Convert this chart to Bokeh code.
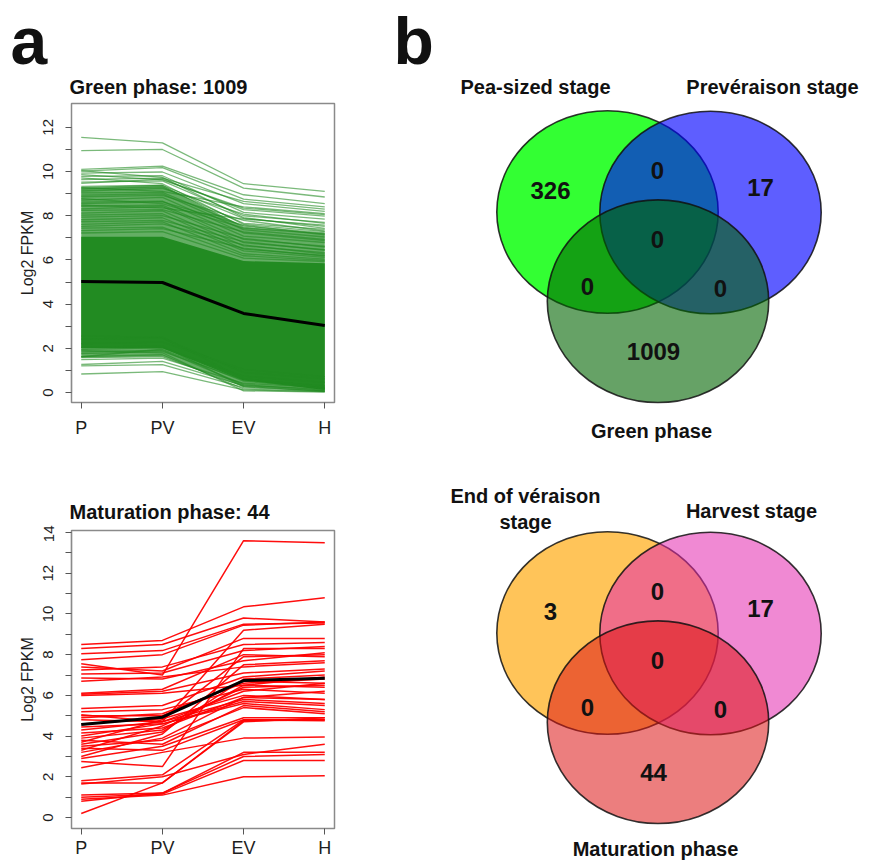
from bokeh.plotting import figure
from bokeh.layouts import row, column
from bokeh.models import Range1d, FixedTicker
from bokeh.core.properties import value
from bokeh.embed import file_html
from bokeh.resources import INLINE

FONT = "Liberation Sans"

# ---------------------------------------------------------------- data
stages = ["P", "PV", "EV", "H"]
stage_x = [1, 2, 3, 4]

green_phase_total = 1009
maturation_phase_total = 44

# Green phase profiles: mean, dense core envelope, outer fringe envelope
green_mean = [5.02, 4.98, 3.58, 3.03]
green_core_low = [2.00, 2.00, 0.55, 0.12]
green_core_high = [7.05, 7.05, 5.95, 5.85]
green_fringe_low = [1.55, 1.60, 0.25, 0.05]
green_fringe_high = [9.30, 9.40, 7.50, 7.20]

# Green phase: individually distinguishable profiles (Log2 FPKM per stage)
green_at_P = [11.55, 10.95, 10.10, 10.02, 9.93, 9.86, 9.78, 9.64, 9.52, 9.47, 9.33, 9.21,
              9.12, 9.04, 8.93, 8.86, 8.71, 8.62, 8.55, 8.43, 8.31, 8.24, 8.12, 8.03,
              7.94, 7.82, 7.73, 7.61, 7.52, 7.44, 7.33, 7.22, 10.04, 9.71, 8.78, 9.27, 8.48,
              0.84, 1.21, 1.27, 1.49, 1.63, 1.76, 1.84, 1.95, 2.04, 2.42, 2.55, 1.62, 2.21, 1.91]
green_at_PV = [11.30, 11.00, 10.25, 10.18, 9.98, 9.62, 9.81, 9.70, 9.58, 9.66, 9.38, 9.31,
               9.24, 9.06, 8.99, 8.92, 8.83, 8.66, 8.63, 8.48, 8.42, 8.28, 8.22, 8.09,
               8.01, 7.91, 7.79, 7.72, 7.63, 7.49, 7.42, 7.28, 9.74, 9.45, 8.55, 9.10, 8.36,
               0.95, 1.26, 1.41, 1.56, 1.71, 1.86, 1.92, 2.02, 2.11, 2.46, 2.51, 1.96, 2.28, 1.80]
green_at_EV = [9.45, 9.25, 8.95, 8.75, 8.55, 8.35, 8.15, 8.65, 8.00, 8.28, 7.88, 7.66,
               8.07, 7.53, 7.37, 7.79, 7.22, 7.08, 7.57, 6.93, 6.78, 7.27, 6.64, 6.49,
               6.98, 6.41, 6.83, 6.28, 6.68, 6.19, 6.53, 6.08, 7.92, 7.61, 7.44, 8.40, 7.85,
               0.12, 0.22, 0.31, 0.42, 0.16, 0.56, 0.36, 0.74, 0.27, 0.91, 0.63, 0.52, 1.05, 0.08]
green_at_H = [9.10, 8.85, 8.55, 8.40, 8.20, 8.05, 7.85, 8.30, 7.70, 7.98, 7.52, 7.38,
              7.66, 7.22, 7.04, 7.31, 6.88, 6.79, 7.14, 6.62, 6.47, 6.93, 6.33, 6.21,
              6.58, 6.12, 6.44, 6.04, 6.27, 5.98, 6.17, 5.93, 7.43, 7.28, 7.19, 8.10, 7.58,
              0.04, 0.09, 0.16, 0.21, 0.05, 0.31, 0.11, 0.46, 0.06, 0.62, 0.26, 0.19, 0.72, 0.02]

# Maturation phase: mean profile and the 44 gene profiles
red_mean = [4.57, 4.93, 6.73, 6.84]
red_at_P = [8.50, 8.30, 8.05, 7.75, 7.55, 7.25, 7.05, 6.85, 6.70, 7.40, 6.05, 6.00,
            5.35, 5.20, 5.05, 4.90, 4.80, 4.60, 4.45, 4.30, 4.15, 4.00, 3.90, 3.80,
            3.70, 3.60, 3.50, 3.40, 3.30, 3.20, 3.00, 2.90, 2.75, 2.45, 1.80, 1.70,
            1.65, 1.10, 1.00, 0.90, 0.80, 0.20, 6.10, 5.00]
red_at_PV = [8.70, 8.50, 8.20, 8.00, 7.00, 7.40, 7.10, 6.80, 6.90, 7.20, 6.20, 6.10,
             5.50, 5.30, 4.70, 5.10, 4.70, 4.85, 4.60, 4.70, 4.40, 4.60, 4.30, 3.60,
             4.80, 4.20, 3.80, 3.30, 4.50, 3.90, 4.10, 3.50, 2.50, 3.20, 2.10, 1.70,
             2.00, 1.20, 1.15, 1.10, 1.20, 1.70, 6.30, 5.00]
red_at_EV = [10.35, 9.80, 9.50, 9.45, 13.60, 8.50, 8.20, 7.70, 7.40, 8.80, 7.10, 6.50,
             6.90, 6.30, 5.80, 6.60, 9.20, 6.00, 5.60, 6.20, 5.90, 5.70, 6.50, 5.50,
             7.90, 6.80, 5.40, 4.80, 6.40, 5.90, 7.50, 4.90, 8.30, 3.90, 4.80, 4.70,
             3.10, 3.00, 2.80, 2.00, 3.20, 4.75, 8.00, 6.70]
red_at_H = [10.80, 9.60, 9.55, 9.60, 13.50, 8.60, 8.40, 8.10, 7.60, 8.80, 7.30, 6.40,
            7.20, 6.10, 5.60, 6.80, 9.50, 5.80, 5.30, 6.60, 6.20, 5.50, 6.90, 5.20,
            8.00, 7.00, 5.10, 4.80, 6.50, 5.80, 7.70, 4.90, 8.30, 3.95, 4.75, 4.90,
            3.60, 3.10, 2.80, 2.05, 3.20, 4.80, 7.90, 6.60]

# Venn diagrams: set names and region counts
# region order: only A, only B, only C, A&B, A&C, B&C, A&B&C
venn_green_sets = ["Pea-sized stage", "Prevéraison stage", "Green phase"]
venn_green_counts = [326, 17, green_phase_total, 0, 0, 0, 0]
venn_mat_sets = ["End of véraison\nstage", "Harvest stage", "Maturation phase"]
venn_mat_counts = [3, 17, maturation_phase_total, 0, 0, 0, 0]


# ---------------------------------------------------------------- helpers
def canvas(width, height, x0=0):
    """Axis-free figure whose data units are page pixels (y grows downward)."""
    p = figure(width=width, height=height, x_range=Range1d(x0, x0 + width),
               y_range=Range1d(height, 0), output_backend="svg", toolbar_location=None,
               x_axis_location=None, y_axis_location=None,
               min_border=0, min_border_left=0, min_border_right=0,
               min_border_top=0, min_border_bottom=0)
    p.grid.visible = False
    p.outline_line_color = None
    p.background_fill_color = "white"
    p.border_fill_color = "white"
    return p


def header(height, title, title_y, letter=None):
    h = canvas(350, height)
    if letter is not None:
        h.text(x=[10], y=[40], text=[letter], text_font=value(FONT), text_font_style="bold",
               text_font_size="66px", text_color="#111111",
               text_align="left", text_baseline="middle")
    h.text(x=[69], y=[title_y], text=[title], text_font=value(FONT), text_font_style="bold",
           text_font_size="20px", text_color="#111111",
           text_align="left", text_baseline="middle")
    return h


def profiles(*cols):
    return [list(v) for v in zip(*cols)]


def line_panel(height, border_top, border_bottom, x_standoff, y_range, y_top_tick):
    p = figure(width=350, height=height, x_range=Range1d(0.88, 4.12), y_range=Range1d(*y_range),
               output_backend="svg", toolbar_location=None,
               min_border_left=71, min_border_right=16,
               min_border_top=border_top, min_border_bottom=border_bottom)
    p.grid.visible = False
    p.outline_line_color = "#8a8a8a"
    p.outline_line_width = 1.5
    p.background_fill_color = "white"
    p.border_fill_color = "white"

    p.xaxis.ticker = FixedTicker(ticks=stage_x)
    p.xaxis.major_label_overrides = {x: s for x, s in zip(stage_x, stages)}
    p.xaxis.bounds = (stage_x[0], stage_x[-1])
    p.yaxis.ticker = FixedTicker(ticks=list(range(0, y_top_tick + 1, 2)),
                                 minor_ticks=list(range(1, y_top_tick, 2)))
    p.yaxis.bounds = (0, y_top_tick)
    for ax in p.axis:
        ax.axis_line_color = "#8a8a8a"
        ax.axis_line_width = 1.2
        ax.major_tick_line_color = "#555555"
        ax.minor_tick_line_color = "#555555"
        ax.major_tick_out = 6
        ax.major_tick_in = 0
        ax.minor_tick_out = 6
        ax.minor_tick_in = 0
        ax.major_label_text_font = FONT
        ax.major_label_text_color = "#1e1e1e"
    p.xaxis.minor_tick_line_color = None
    p.xaxis.major_label_text_font_size = "18px"
    p.xaxis.major_label_standoff = x_standoff
    p.yaxis.major_label_text_font_size = "15px"
    p.yaxis.major_label_orientation = "vertical"
    p.yaxis.major_label_standoff = 12
    p.yaxis.axis_label = "Log2 FPKM"
    p.yaxis.axis_label_text_font = FONT
    p.yaxis.axis_label_text_font_size = "16px"
    p.yaxis.axis_label_text_font_style = "normal"
    p.yaxis.axis_label_text_color = "#1e1e1e"
    p.yaxis.axis_label_standoff = 5
    return p


# ---------------------------------------------------------------- panel a
ha1 = header(100, f"Green phase: {green_phase_total}", 86.5, letter="a")

pa1 = line_panel(341, 3, 39, 9, (-0.45, 13.08), 12)
pa1.varea(x=stage_x, y1=green_fringe_low, y2=green_fringe_high, fill_color="#228B22", fill_alpha=0.7)
pa1.varea(x=stage_x, y1=green_core_low, y2=green_core_high, fill_color="#228B22", fill_alpha=1.0)
pa1.multi_line(xs=[stage_x] * len(green_at_P),
               ys=profiles(green_at_P, green_at_PV, green_at_EV, green_at_H),
               line_color="#228B22", line_alpha=0.6, line_width=1.3)
pa1.line(stage_x, green_mean, line_color="black", line_width=3)

ha2 = header(84, f"Maturation phase: {maturation_phase_total}", 70.7)

pa2 = line_panel(336, 5, 33, 3, (-0.54, 14.1), 14)
pa2.multi_line(xs=[stage_x] * len(red_at_P),
               ys=profiles(red_at_P, red_at_PV, red_at_EV, red_at_H),
               line_color="#FF0000", line_alpha=0.95, line_width=1.5)
pa2.line(stage_x, red_mean, line_color="black", line_width=3)

# ---------------------------------------------------------------- panel b
pb = canvas(520, 861, x0=350)

# circle layout (page pixels) for the upper diagram; the lower one is shifted down
VENN_CENTERS = [(607, 211.5), (710, 212), (657.5, 300.7)]
VENN_RX, VENN_RY = 110.7, 101.3
REGION_POS = [(550, 190), (760, 187), (653, 351), (657, 170), (587, 286), (720, 288), (657, 239)]
VENN_SHIFT = 421

venn_styles = [
    dict(fills=["#00FF00", "#0000FF", "#006400"], alphas=[0.8, 0.63, 0.6],
         label_pos=[(535, 86), (772, 86), (651, 430)], shift=0),
    dict(fills=["#FFA500", "#E428AF", "#DC1414"], alphas=[0.65, 0.55, 0.55],
         label_pos=[(525, 495), (751, 510), (655, 848)], shift=VENN_SHIFT),
]


def draw_venn(p, names, counts, style):
    dy = style["shift"]
    for (cx, cy), fc, fa in zip(VENN_CENTERS, style["fills"], style["alphas"]):
        p.ellipse(x=cx, y=cy + dy, width=2 * VENN_RX, height=2 * VENN_RY,
                  fill_color=fc, fill_alpha=fa, line_color="#111111",
                  line_width=1.6, line_alpha=0.85)
    p.text(x=[x for x, _ in REGION_POS], y=[y + dy for _, y in REGION_POS],
           text=[str(c) for c in counts], text_font=value(FONT), text_font_style="bold",
           text_font_size="24px", text_color="#111111",
           text_align="center", text_baseline="middle")
    xs, ys, texts = [], [], []
    for name, (lx, ly) in zip(names, style["label_pos"]):
        for i, part in enumerate(name.split("\n")):
            xs.append(lx)
            ys.append(ly + 26 * i)
            texts.append(part)
    p.text(x=xs, y=ys, text=texts, text_font=value(FONT), text_font_style="bold",
           text_font_size="20px", text_color="#111111",
           text_align="center", text_baseline="middle")


draw_venn(pb, venn_green_sets, venn_green_counts, venn_styles[0])
draw_venn(pb, venn_mat_sets, venn_mat_counts, venn_styles[1])
pb.text(x=[393], y=[40], text=["b"], text_font=value(FONT), text_font_style="bold",
        text_font_size="66px", text_color="#111111",
        text_align="left", text_baseline="middle")

# each plot sits in its own box so the headers keep their full-width frames
left = column(row(ha1, spacing=0), row(pa1, spacing=0),
              row(ha2, spacing=0), row(pa2, spacing=0), spacing=0)
layout = row(left, pb, spacing=0)
open("out.html", "w").write(file_html(layout, INLINE))
